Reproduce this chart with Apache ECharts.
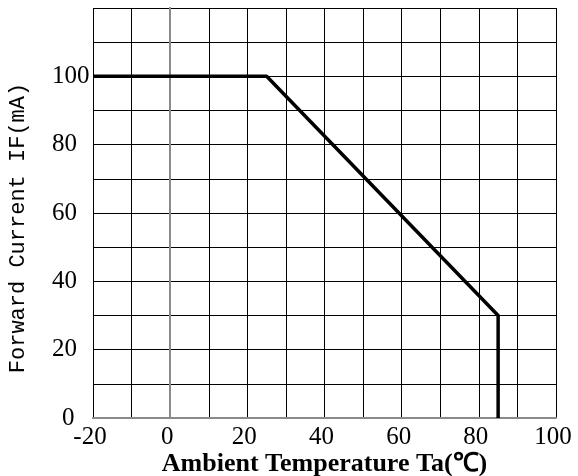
<!DOCTYPE html>
<html>
<head>
<meta charset="utf-8">
<style>
    html, body { margin: 0; padding: 0; background: #fff; }
    #container { width: 578px; height: 476px; }
</style>
</head>
<body>
<div id="container"></div>
<script src="https://cdn.jsdelivr.net/npm/echarts@6/dist/echarts.min.js"></script>
<script type="text/javascript">
    // 降额曲线数据
    var temperature = [-20, 25, 85, 85];
    var current = [100, 100, 30, 0];

    // 坐标轴刻度标签
    var xTicks = [-20, 0, 20, 40, 60, 80, 100];
    var yTicks = [0, 20, 40, 60, 80, 100];

    var points = [];
    for (var i = 0; i < temperature.length; i++) {
        points.push([temperature[i], current[i]]);
    }

    var myChart = echarts.init(document.getElementById('container'));

    var option = {
        animation: false,
        grid: {
            left: 93,
            right: 22,
            top: 8,
            bottom: 58,
            containLabel: false,
            outerBoundsMode: 'none'
        },
        xAxis: [{
            type: 'value',
            min: -20,
            max: 100,
            interval: 10,
            name: 'Ambient Temperature Ta(℃)',
            nameLocation: 'middle',
            nameGap: 33,
            nameMoveOverlap: false,
            nameTextStyle: {
                fontFamily: 'Liberation Serif',
                fontWeight: 'bold',
                fontSize: 26,
                color: '#000'
            },
            axisLine: { show: true, lineStyle: { color: '#8a8a8a', width: 2 } },
            axisTick: { show: false },
            axisLabel: {
                fontFamily: 'Liberation Serif',
                fontSize: 25,
                color: '#000',
                margin: 7,
                padding: [0, 6, 0, 0],
                formatter: function (v) {
                    return xTicks.indexOf(v) >= 0 ? String(v) : '';
                }
            },
            splitLine: { show: true, lineStyle: { color: '#000', width: 1 } }
        }, {
            type: 'value',
            position: 'top',
            min: -20,
            max: 100,
            axisLine: { show: true, lineStyle: { color: '#8a8a8a', width: 2 } },
            axisTick: { show: false },
            axisLabel: { show: false },
            splitLine: { show: false }
        }],
        yAxis: [{
            type: 'value',
            min: 0,
            max: 120,
            interval: 10,
            name: 'Forward Current IF(mA)',
            nameLocation: 'middle',
            nameGap: 64,
            nameMoveOverlap: false,
            nameTextStyle: {
                fontFamily: 'Liberation Mono',
                fontSize: 22,
                color: '#000',
                padding: [0, 0, 0, -30]
            },
            axisLine: { show: true, lineStyle: { color: '#8a8a8a', width: 2 } },
            axisTick: { show: false },
            axisLabel: {
                fontFamily: 'Liberation Serif',
                fontSize: 25,
                color: '#000',
                align: 'left',
                margin: 41,
                formatter: function (v) {
                    if (yTicks.indexOf(v) < 0) return '';
                    return v === 0 ? '{z|0}' : String(v);
                },
                rich: {
                    z: { fontFamily: 'Liberation Serif', fontSize: 25, color: '#000', padding: [0, 0, 0, 10] }
                }
            },
            splitLine: { show: true, lineStyle: { color: '#000', width: 1 } }
        }, {
            type: 'value',
            position: 'right',
            min: 0,
            max: 120,
            axisLine: { show: true, lineStyle: { color: '#8a8a8a', width: 2 } },
            axisTick: { show: false },
            axisLabel: { show: false },
            splitLine: { show: false }
        }],
        series: [{
            type: 'line',
            data: points,
            symbol: 'none',
            lineStyle: { color: '#000', width: 3.5 },
            z: 5
        }]
    };

    myChart.setOption(option);
</script>
</body>
</html>
